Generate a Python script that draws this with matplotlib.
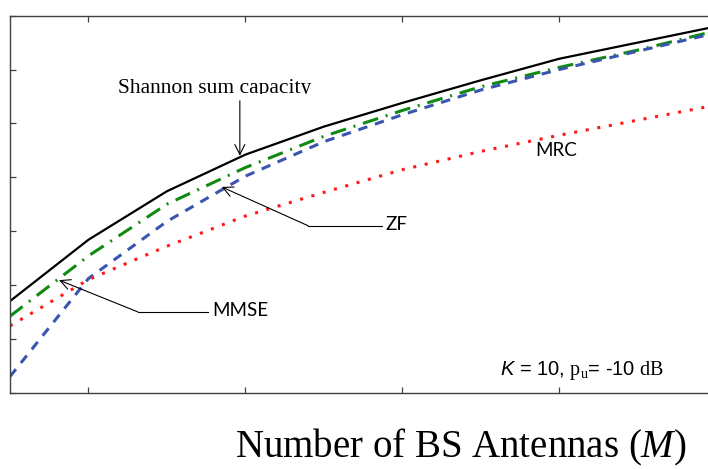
import matplotlib
matplotlib.use('Agg')
import matplotlib.pyplot as plt
from matplotlib.patches import Rectangle

# (sum rate, bits/s/Hz)
M = [10, 20, 30, 40, 50, 60, 70, 80, 90, 100]
shannon = [8.5, 14.2, 18.7, 22.1, 24.7, 26.9, 29.0, 31.0, 32.5, 34.0]
mmse = [7.1, 12.7, 17.5, 20.9, 23.8, 26.2, 28.4, 30.2, 31.8, 33.6]
zf = [1.5, 10.6, 15.9, 20.1, 23.3, 25.8, 28.1, 30.0, 31.7, 33.4]
mrc = [6.2, 10.5, 13.6, 16.4, 18.6, 20.7, 22.4, 23.9, 25.3, 26.7]

x_ticks = [20, 40, 60, 80, 100]
y_ticks = [0, 5, 10, 15, 20, 25, 30, 35]

plt.rcParams['mathtext.fontset'] = 'custom'
plt.rcParams['mathtext.rm'] = 'Liberation Serif'
plt.rcParams['mathtext.it'] = 'Liberation Serif:italic'
plt.rcParams['mathtext.sf'] = 'Liberation Sans:italic'

W, H = 708, 469
fig = plt.figure(figsize=(W / 100, H / 100), dpi=100)
ax = fig.add_axes([10 / W, 1 - 392.7 / H, 706 / W, 377 / H])

ax.plot(M, shannon, color='black', lw=1.6)
ax.plot(M, mmse, color='#108a10', lw=2.2, dashes=(5.2, 2.6, 0.65, 2.6))
ax.plot(M, zf, color='#3a55b0', lw=2.2, dashes=(3.1, 2.6))
ax.plot(M, mrc, color='#ff1a1a', lw=2.2, dashes=(1.0, 2.85))

ax.set_xlim(10, 100)
ax.set_ylim(0, 35)
ax.set_xticks(x_ticks)
ax.set_yticks(y_ticks)
ax.tick_params(direction='in', length=4, width=0.9, color='#404040',
               top=True, right=True, labelbottom=False, labelleft=False)
for s in ax.spines.values():
    s.set_color('#404040')
    s.set_linewidth(1.0)

arrow = dict(arrowstyle='->', color='black', lw=0.8, shrinkA=0, shrinkB=0,
             mutation_scale=18)

# Shannon label (bottom of text cut off as in the original)
t = ax.text(36.1, 27.8, 'Shannon sum capacity', family='Liberation Serif',
            fontsize=15.5, ha='center', va='baseline', clip_on=True)
t.set_clip_path(Rectangle((0, 1 - 94 / H), 1, 94 / H, transform=fig.transFigure))
ax.annotate('', xy=(39.3, 22.0), xytext=(39.3, 27.1), arrowprops=arrow)

# ZF
ax.annotate('', xy=(37.0, 19.1), xytext=(48.0, 15.5), arrowprops=arrow)
ax.plot([48.0, 57.4], [15.5, 15.5], color='black', lw=0.8)
ax.text(57.9, 15.6, 'ZF', family='Lato', fontsize=13.5, ha='left', va='center')

# MMSE
ax.annotate('', xy=(16.25, 10.45), xytext=(26.3, 7.5), arrowprops=arrow)
ax.plot([26.3, 35.2], [7.5, 7.5], color='black', lw=0.8)
ax.text(35.75, 7.6, 'MMSE', family='Lato', fontsize=13.5, ha='left', va='center')

# MRC
ax.text(79.6, 22.5, 'MRC', family='Lato', fontsize=13.5, ha='center', va='center')

ax.text(72.5, 1.65, r'$\mathsf{K}$ = 10, $\mathrm{p}_{\mathrm{u}}$= -10 $\mathrm{dB}$',
        family='Liberation Sans', fontsize=14.5, ha='left', va='baseline')

fig.text(461 / W, 1 - 457 / H, r'Number of BS Antennas ($M$)',
         family='Liberation Serif', fontsize=28, ha='center', va='baseline')

fig.savefig('out.png', dpi=100)
